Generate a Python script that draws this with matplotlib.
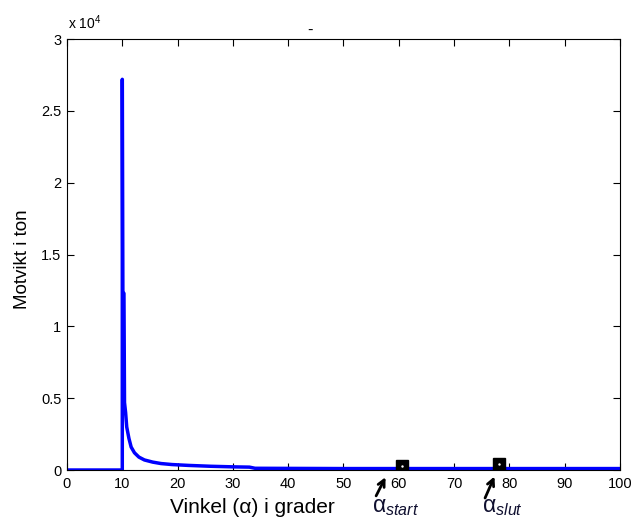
import matplotlib
matplotlib.use("Agg")
import matplotlib.pyplot as plt
import numpy as np

plt.rcParams['font.family'] = ['Liberation Sans', 'DejaVu Sans']
plt.rcParams['mathtext.fontset'] = 'custom'
plt.rcParams['mathtext.rm'] = 'Liberation Sans'
plt.rcParams['mathtext.it'] = 'Liberation Sans:italic'

# Data
angle = [0, 10, 10, 10.1, 10.3, 10.4, 10.6, 10.8, 11.2, 11.6, 12.2, 13, 14, 15.5,
         17, 19, 22, 26, 30, 33, 34, 50, 70, 100]
weight = [0, 0, 27200, 12300, 12300, 4700, 4000, 3000, 2200, 1600, 1200, 900, 700,
          550, 450, 380, 320, 260, 220, 200, 120, 100, 100, 100]
marker_x = [60.6, 78.1]
marker_y = [300, 400]
marker_labels = [r'α$_{\mathit{start}}$', r'α$_{\mathit{slut}}$']
yticks = [0, 5000, 10000, 15000, 20000, 25000, 30000]
ytick_labels = ['0', '0.5', '1', '1.5', '2', '2.5', '3']
xticks = list(range(0, 101, 10))

fig = plt.figure(figsize=(6.32, 5.22), dpi=100)
ax = fig.add_axes([0.106, 0.0996, 0.875, 0.8255])
ax.plot(angle, weight, color='#0000ff', lw=2.5)
ax.plot(marker_x, marker_y, 's', color='black', ms=9, mec='black')
ax.plot(marker_x, marker_y, '.', color='white', ms=1.5)

ax.set_xlim(0, 100)
ax.set_ylim(0, 30000)
ax.set_xticks(xticks)
ax.set_yticks(yticks)
ax.set_yticklabels(ytick_labels)
ax.tick_params(direction='in', top=True, right=True, labelsize=10.5, length=5, width=0.8)
ax.tick_params(axis='x', pad=5)
ax.tick_params(axis='y', pad=4)
for s in ax.spines.values():
    s.set_linewidth(0.8)

ax.set_ylabel('Motvikt i ton', fontsize=13.5)
ax.yaxis.set_label_coords(-0.065, 0.49)
ax.text(0.002, 1.016, r'x 10$^{4}$', transform=ax.transAxes, fontsize=10, ha='left', va='bottom')
ax.set_title('-', fontsize=12, pad=3, x=0.44)
ax.text(33.6, -2620, 'Vinkel (α) i grader', fontsize=15, ha='center', va='center')

arrow_tail = [(55.9, -1800), (75.6, -1950)]
arrow_head = [(57.6, -500), (77.3, -450)]
label_pos = [(55.2, -2900), (75.1, -2950)]
for lab, tail, head, lp in zip(marker_labels, arrow_tail, arrow_head, label_pos):
    ax.annotate('', xy=head, xytext=tail, annotation_clip=False,
                arrowprops=dict(arrowstyle='->', lw=2, color='black',
                                shrinkA=0, shrinkB=0, mutation_scale=12))
    ax.text(lp[0], lp[1], lab, fontsize=16.5, ha='left', va='baseline', color='#101030', clip_on=False)

fig.savefig('out.png', dpi=100)
